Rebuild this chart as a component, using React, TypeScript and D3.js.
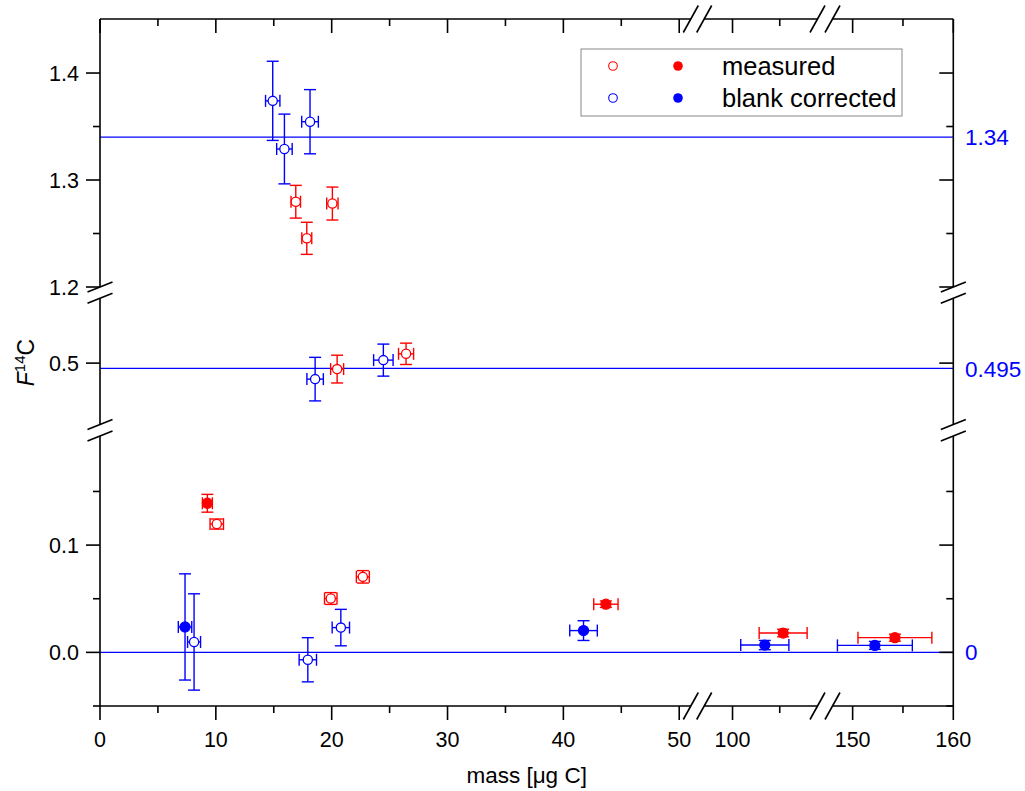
import React from "react";
import * as d3 from "d3";

// ---------- data ----------
// measured (red) open symbols: [mass, F14C, mass err, F14C err]
const measuredOpen: number[][] = [
  [16.9, 1.2797, 0.41, 0.0153],
  [17.85, 1.2455, 0.43, 0.015],
  [20.06, 1.278, 0.49, 0.0154],
  [20.47, 0.4944, 0.56, 0.013],
  [26.42, 0.5087, 0.65, 0.01],
  [10.08, 0.1196, 0.58, 0.0047],
  [19.92, 0.0502, 0.54, 0.0055],
  [22.69, 0.0704, 0.56, 0.0058],
];
const measuredFilled: number[][] = [
  [9.27, 0.139, 0.43, 0.0083],
  [43.67, 0.0449, 1.05, 0.003],
  [105.36, 0.018, 2.54, 0.0035],
  [154.2, 0.0137, 3.67, 0.0033],
];
const correctedOpen: number[][] = [
  [14.91, 1.374, 0.62, 0.037],
  [15.92, 1.329, 0.67, 0.0326],
  [18.13, 1.3545, 0.72, 0.03],
  [18.57, 0.485, 0.71, 0.0204],
  [24.46, 0.5028, 0.84, 0.015],
  [8.12, 0.0097, 0.56, 0.0449],
  [17.94, -0.0069, 0.75, 0.0206],
  [20.79, 0.0231, 0.75, 0.017],
];
const correctedFilled: number[][] = [
  [7.34, 0.0237, 0.58, 0.0495],
  [41.74, 0.0203, 1.19, 0.0092],
  [103.42, 0.0068, 2.55, 0.0043],
  [152.21, 0.0065, 3.72, 0.0037],
];
const refLines: number[] = [1.34, 0.495, 0];
const refLabels: string[] = ["1.34", "0.495", "0"];

const xMajor: number[] = [0, 10, 20, 30, 40, 50, 100, 150, 160];
const xMinor: number[] = [5, 15, 25, 35, 45, 105, 155];
const yMajor: number[] = [1.2, 1.3, 1.4, 0.5, 0.0, 0.1];
const yMinor: number[] = [1.25, 1.35, -0.05, 0.05, 0.15];

const legendItems: string[] = ["measured", "blank corrected"];

// ---------- layout ----------
const RED = "#ff0000";
const BLUE = "#0000ff";
const FONT = "'Liberation Sans', Arial, Helvetica, sans-serif";
const LEFT = 100, RIGHT = 953.3, TOP = 19, BOTTOM = 706;

const xSegs = [
  d3.scaleLinear().domain([0, 51]).range([LEFT, 690.8]),
  d3.scaleLinear().domain([97, 109]).range([704.2, 817.5]),
  d3.scaleLinear().domain([148, 160]).range([832.5, RIGHT]),
];
const ySegs = [
  d3.scaleLinear().domain([-0.05, 0.2017]).range([BOTTOM, 436]),
  d3.scaleLinear().domain([0.4425, 0.5607]).range([424.5, 298.3]),
  d3.scaleLinear().domain([1.2, 1.4505]).range([287, TOP]),
];

function pick(segs: d3.ScaleLinear<number, number>[], v: number) {
  let best = segs[0];
  let bd = Infinity;
  for (const s of segs) {
    const [a, b] = s.domain();
    const d = v < a ? a - v : v > b ? v - b : 0;
    if (d < bd) { bd = d; best = s; }
  }
  return best;
}
const X = (v: number) => pick(xSegs, v)(v);
const Y = (v: number) => pick(ySegs, v)(v);

function ErrorBars({ data, color }: { data: number[][]; color: string }) {
  const cap = 6;
  return (
    <g stroke={color} strokeWidth={1.4} fill="none">
      {data.map((d, i) => {
        const s = pick(xSegs, d[0]);
        const ys = pick(ySegs, d[1]);
        const cx = s(d[0]), cy = ys(d[1]);
        const x0 = s(d[0] - d[2]), x1 = s(d[0] + d[2]);
        const y0 = ys(d[1] - d[3]), y1 = ys(d[1] + d[3]);
        return (
          <g key={i}>
            <line x1={cx} x2={cx} y1={y0} y2={y1} />
            <line x1={cx - cap} x2={cx + cap} y1={y0} y2={y0} />
            <line x1={cx - cap} x2={cx + cap} y1={y1} y2={y1} />
            <line x1={x0} x2={x1} y1={cy} y2={cy} />
            <line x1={x0} x2={x0} y1={cy - cap} y2={cy + cap} />
            <line x1={x1} x2={x1} y1={cy - cap} y2={cy + cap} />
          </g>
        );
      })}
    </g>
  );
}

function Markers({ data, color, filled }: { data: number[][]; color: string; filled: boolean }) {
  return (
    <g>
      {data.map((d, i) => (
        <circle
          key={i}
          cx={X(d[0])}
          cy={Y(d[1])}
          r={filled ? 5 : 4.6}
          fill={filled ? color : "#fff"}
          stroke={color}
          strokeWidth={1.3}
        />
      ))}
    </g>
  );
}

export default function App() {
  const MAJ = 14, MIN = 7;
  const xSlash = (x: number, y: number, k: string) => (
    <line key={k} x1={x - 7.5} y1={y + 13.5} x2={x + 7.5} y2={y - 13.5} stroke="#000" strokeWidth={1.6} />
  );
  const ySlash = (x: number, y: number, k: string) => (
    <line key={k} x1={x - 12.5} y1={y + 5} x2={x + 12.5} y2={y - 5} stroke="#000" strokeWidth={1.6} />
  );

  return (
    <svg
      width={1025}
      height={791}
      style={{ position: "absolute", left: 0, top: 0, background: "#fff" }}
      fontFamily={FONT}
    >
      <rect width={1025} height={791} fill="#fff" />
      {/* reference lines */}
      {refLines.map((v, i) => (
        <g key={i}>
          <line x1={LEFT} x2={RIGHT} y1={Y(v)} y2={Y(v)} stroke={BLUE} strokeWidth={1.2} />
          <text x={965} y={Y(v)} dy="0.36em" fontSize={22.5} fill={BLUE}>{refLabels[i]}</text>
        </g>
      ))}

      {/* axes lines (segmented) */}
      <g stroke="#000" strokeWidth={1.6}>
        {xSegs.map((s, i) => (
          <g key={i}>
            <line x1={s.range()[0]} x2={s.range()[1]} y1={BOTTOM} y2={BOTTOM} />
            <line x1={s.range()[0]} x2={s.range()[1]} y1={TOP} y2={TOP} />
          </g>
        ))}
        {ySegs.map((s, i) => (
          <g key={i}>
            <line y1={s.range()[0]} y2={s.range()[1]} x1={LEFT} x2={LEFT} />
            <line y1={s.range()[0]} y2={s.range()[1]} x1={RIGHT} x2={RIGHT} />
          </g>
        ))}
        {/* x ticks */}
        {xMajor.map((v) => (
          <g key={"xM" + v}>
            <line x1={X(v)} x2={X(v)} y1={BOTTOM} y2={BOTTOM + MAJ} />
            <line x1={X(v)} x2={X(v)} y1={TOP} y2={TOP + MAJ} />
          </g>
        ))}
        {xMinor.map((v) => (
          <g key={"xm" + v}>
            <line x1={X(v)} x2={X(v)} y1={BOTTOM} y2={BOTTOM + MIN} />
            <line x1={X(v)} x2={X(v)} y1={TOP} y2={TOP + MIN} />
          </g>
        ))}
        {/* y ticks */}
        {yMajor.map((v) => (
          <g key={"yM" + v}>
            <line y1={Y(v)} y2={Y(v)} x1={LEFT} x2={LEFT - MAJ} />
            <line y1={Y(v)} y2={Y(v)} x1={RIGHT} x2={RIGHT - MAJ} />
          </g>
        ))}
        {yMinor.map((v) => (
          <g key={"ym" + v}>
            <line y1={Y(v)} y2={Y(v)} x1={LEFT} x2={LEFT - MIN} />
            <line y1={Y(v)} y2={Y(v)} x1={RIGHT} x2={RIGHT - MIN} />
          </g>
        ))}
      </g>

      {/* break marks */}
      {xSegs.slice(0, -1).map((s, i) => {
        const a = s.range()[1];
        const b = xSegs[i + 1].range()[0];
        return (
          <g key={"xb" + i}>
            {xSlash(a, BOTTOM, "a")}
            {xSlash(b, BOTTOM, "b")}
            {xSlash(a, TOP, "c")}
            {xSlash(b, TOP, "d")}
          </g>
        );
      })}
      {ySegs.slice(0, -1).map((s, i) => {
        const a = s.range()[1];
        const b = ySegs[i + 1].range()[0];
        return (
          <g key={"yb" + i}>
            {ySlash(LEFT, a, "a")}
            {ySlash(LEFT, b, "b")}
            {ySlash(RIGHT, a, "c")}
            {ySlash(RIGHT, b, "d")}
          </g>
        );
      })}

      {/* tick labels */}
      <g fontSize={21.5} fill="#000">
        {xMajor.map((v) => (
          <text key={"xl" + v} x={X(v)} y={747} textAnchor="middle">{String(v)}</text>
        ))}
        {yMajor.map((v) => (
          <text key={"yl" + v} x={79} y={Y(v)} dy="0.36em" textAnchor="end">{v.toFixed(1)}</text>
        ))}
      </g>

      {/* axis titles */}
      <text x={(LEFT + RIGHT) / 2} y={783} textAnchor="middle" fontSize={22.5}>mass [μg C]</text>
      <text transform={`translate(34, ${(TOP + BOTTOM) / 2}) rotate(-90)`} textAnchor="middle" fontSize={23}>
        <tspan fontStyle="italic">F</tspan>
        <tspan fontSize={15} dy={-9}>14</tspan>
        <tspan dy={9}>C</tspan>
      </text>

      {/* data */}
      <ErrorBars data={measuredOpen} color={RED} />
      <ErrorBars data={measuredFilled} color={RED} />
      <ErrorBars data={correctedOpen} color={BLUE} />
      <ErrorBars data={correctedFilled} color={BLUE} />
      <Markers data={measuredOpen} color={RED} filled={false} />
      <Markers data={measuredFilled} color={RED} filled={true} />
      <Markers data={correctedOpen} color={BLUE} filled={false} />
      <Markers data={correctedFilled} color={BLUE} filled={true} />

      {/* legend */}
      <rect x={581} y={49} width={321} height={67} fill="#fff" stroke="#888" strokeWidth={1} />
      {legendItems.map((t, i) => {
        const c = i === 0 ? RED : BLUE;
        const cy = 66 + i * 32;
        return (
          <g key={t}>
            <circle cx={613} cy={cy} r={4.3} fill="#fff" stroke={c} strokeWidth={1.1} />
            <circle cx={678} cy={cy} r={4.8} fill={c} />
            <text x={722} y={cy + 9} fontSize={25.5}>{t}</text>
          </g>
        );
      })}
    </svg>
  );
}
